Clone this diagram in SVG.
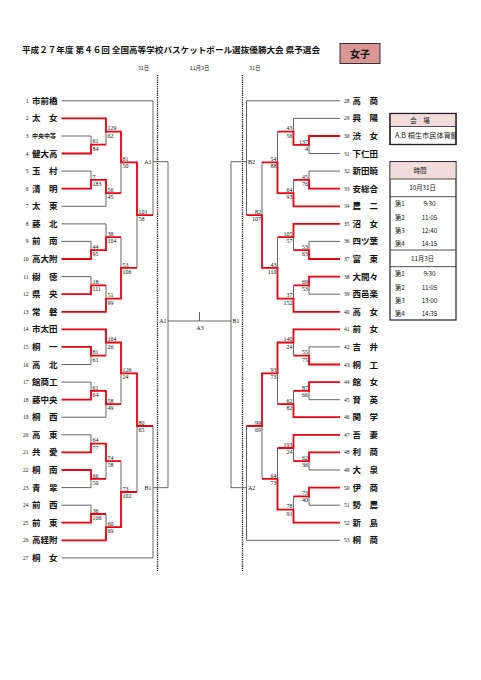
<svg xmlns="http://www.w3.org/2000/svg" width="481" height="680" viewBox="0 0 481 680">
<style>
.g{stroke:#555;stroke-width:0.9;fill:none}
.r{stroke:#e8000f;stroke-width:1.8;fill:none;stroke-linejoin:miter}
.dash{stroke:#222;stroke-width:1.3;stroke-dasharray:1.3 0.9;fill:none}
.nm{font-family:"Noto Sans CJK JP",sans-serif;font-size:8.5px;font-weight:bold;fill:#111}
.sm{font-family:"Noto Sans CJK JP",sans-serif;font-size:6px;font-weight:bold;fill:#111}
.no{font-family:"Liberation Serif",serif;font-size:5.5px;fill:#111}
.nol{font-family:"Liberation Serif",serif;font-size:5.5px;fill:#111;text-anchor:end}
.sc{font-family:"Liberation Serif",serif;font-size:6px;fill:#111}
.scr{font-family:"Liberation Serif",serif;font-size:6px;fill:#111;text-anchor:end}
.lb{font-family:"Liberation Serif",serif;font-size:6px;fill:#111}
.jp{font-family:"Noto Sans CJK JP",sans-serif;fill:#111}
.box{fill:#fff;stroke:#222;stroke-width:1.2}
.ln{stroke:#222;stroke-width:0.8}
.hd{fill:#f2dcdb}
</style>
<rect width="481" height="680" fill="#fff"/>
<g id="header">
<text class="jp" x="22" y="52.5" font-size="8.2" font-weight="bold" textLength="298" lengthAdjust="spacingAndGlyphs">平成２７年度 第４６回 全国高等学校バスケットボール選抜優勝大会 県予選会</text>
<rect x="340" y="43.5" width="40" height="20" fill="#d99694" stroke="#333" stroke-width="1"/>
<text class="jp" x="360" y="57.5" font-size="10" font-weight="bold" text-anchor="middle">女子</text>
<text class="jp" x="143.5" y="69.5" font-size="5.3" text-anchor="middle">31日</text>
<text class="jp" x="199.5" y="69.5" font-size="5.3" text-anchor="middle">11月3日</text>
<text class="jp" x="254.7" y="69.5" font-size="5.3" text-anchor="middle">31日</text>
</g>
<g id="connectors">
<path class="dash" d="M157.5 75V571M242.5 75V571"/>
<g class="g">
<path d="M61.5 100.8H153M61.5 136H91M61.5 171.1H91M61.5 206.3H106M61.5 223.9H106M61.5 241.4H91M61.5 276.6H91M61.5 364.5H91M61.5 382.1H91M61.5 417.2H106M61.5 434.8H91M61.5 487.6H91M61.5 505.2H91M61.5 557.9H153"/>
<path d="M91 136V144.7M91 171.1V179.9M91 241.4V250.2M91 276.6V285.4M91 355.7V364.5M91 382.1V390.9M91 434.8V443.6M91 478.8V487.6M91 505.2V514"/>
<path d="M106 131.6V144.7M106 193.1V206.3M106 223.9V237.1M106 285.4V298.6M106 342.5V355.7M106 404.1V417.2M106 461.2V478.8M106 514V527.1"/>
<path d="M121 162.3V193.1M121 237.1V267.8M121 373.3V404.1M121 461.2V492"/>
<path d="M137 215.1V267.8M137 426V492"/>
<path d="M153 100.8V215.1M153 161.7H168M153 426V557.9M153 487.7H168"/>
<path d="M168 161.7V487.7M168 321H231M231 161.7V487.7M199.5 312V321"/>
<path d="M246.5 100.8V215.1M246.5 161.7H231M246.5 426V540.3M246.5 487.7H231"/>
<path d="M340 100.8H246.5M340 118.4H293.5M340 153.5H309M340 171.1H309M340 241.4H309M340 294.2H309M340 346.9H309M340 399.7H309M340 470H309M340 505.2H309M340 540.3H246.5"/>
<path d="M309 144.8V153.5M309 171.1V179.9M309 241.4V250.2M309 285.4V294.2M309 346.9V355.7M309 390.9V399.7M309 461.2V470M309 496.4V505.2"/>
<path d="M293.5 118.4V131.6M293.5 179.9V193.1M293.5 237.1V250.2M293.5 285.4V298.6M293.5 342.5V355.7M293.5 390.9V404.1M293.5 448V461.2M293.5 496.4V509.6"/>
<path d="M277.5 131.6V162.3M277.5 237.1V267.8M277.5 373.3V404.1M277.5 448V478.8"/>
<path d="M262 162.3V215.1M262 426V478.8"/>
</g>
<g class="r">
<path d="M61.5 118.4H106V131.6H121V162.3H137V215.1H153"/>
<path d="M61.5 153.5H91V144.7H106"/>
<path d="M61.5 188.7H91V179.9H106V193.1H121"/>
<path d="M61.5 259H91V250.2H106V237.1H121"/>
<path d="M61.5 294.2H91V285.4H106"/>
<path d="M61.5 311.8H106V298.6H121V267.8H137"/>
<path d="M61.5 329.3H106V342.5H121V373.3H137V426H153"/>
<path d="M61.5 346.9H91V355.7H106"/>
<path d="M61.5 399.7H91V390.9H106V404.1H121"/>
<path d="M61.5 452.4H91V443.6H106V461.2H121"/>
<path d="M61.5 470H91V478.8H106"/>
<path d="M61.5 522.7H91V514H106"/>
<path d="M61.5 540.3H106V527.1H121V492H137"/>
<path d="M340 136H309V144.8H293.5V131.6H277.5"/>
<path d="M340 188.7H309V179.9H293.5"/>
<path d="M340 206.3H293.5V193.1H277.5V162.3H262"/>
<path d="M340 223.9H293.5V237.1H277.5"/>
<path d="M340 259H309V250.2H293.5"/>
<path d="M340 276.6H309V285.4H293.5"/>
<path d="M340 311.8H293.5V298.6H277.5V267.8H262V215.1H246.5"/>
<path d="M340 329.3H293.5V342.5H277.5V373.3H262V426H246.5"/>
<path d="M340 364.5H309V355.7H293.5"/>
<path d="M340 382.1H309V390.9H293.5"/>
<path d="M340 417.2H293.5V404.1H277.5"/>
<path d="M340 434.8H293.5V448H277.5"/>
<path d="M340 452.4H309V461.2H293.5"/>
<path d="M340 487.6H309V496.4H293.5"/>
<path d="M340 522.7H293.5V509.6H277.5V478.8H262"/>
</g>
</g>
<g id="scores">
<text class="sc" x="92.5" y="143.4">61</text><text class="sc" x="92.5" y="150.7">84</text>
<text class="sc" x="92.5" y="178.6">7</text><text class="sc" x="92.5" y="185.9">183</text>
<text class="sc" x="92.5" y="248.9">44</text><text class="sc" x="92.5" y="256.2">95</text>
<text class="sc" x="92.5" y="284.1">18</text><text class="sc" x="92.5" y="291.4">111</text>
<text class="sc" x="92.5" y="354.4">81</text><text class="sc" x="92.5" y="361.7">61</text>
<text class="sc" x="92.5" y="389.6">61</text><text class="sc" x="92.5" y="396.9">64</text>
<text class="sc" x="92.5" y="442.3">64</text><text class="sc" x="92.5" y="449.6">77</text>
<text class="sc" x="92.5" y="477.5">66</text><text class="sc" x="92.5" y="484.8">50</text>
<text class="sc" x="92.5" y="512.7">36</text><text class="sc" x="92.5" y="520">106</text>
<text class="sc" x="107.5" y="130.3">129</text><text class="sc" x="107.5" y="137.6">62</text>
<text class="sc" x="107.5" y="191.8">56</text><text class="sc" x="107.5" y="199.1">45</text>
<text class="sc" x="107.5" y="235.8">38</text><text class="sc" x="107.5" y="243.1">104</text>
<text class="sc" x="107.5" y="297.3">51</text><text class="sc" x="107.5" y="304.6">99</text>
<text class="sc" x="107.5" y="341.2">164</text><text class="sc" x="107.5" y="348.5">26</text>
<text class="sc" x="107.5" y="402.8">58</text><text class="sc" x="107.5" y="410.1">49</text>
<text class="sc" x="107.5" y="459.9">74</text><text class="sc" x="107.5" y="467.2">58</text>
<text class="sc" x="107.5" y="525.8">60</text><text class="sc" x="107.5" y="533.1">69</text>
<text class="sc" x="122.5" y="161">81</text><text class="sc" x="122.5" y="168.3">50</text>
<text class="sc" x="122.5" y="266.5">53</text><text class="sc" x="122.5" y="273.8">106</text>
<text class="sc" x="122.5" y="372">126</text><text class="sc" x="122.5" y="379.3">24</text>
<text class="sc" x="122.5" y="490.7">73</text><text class="sc" x="122.5" y="498">102</text>
<text class="sc" x="138.5" y="213.8">101</text><text class="sc" x="138.5" y="221.1">58</text>
<text class="sc" x="138.5" y="424.7">80</text><text class="sc" x="138.5" y="432">65</text>
<text class="scr" x="308" y="143.5">137</text><text class="scr" x="308" y="150.8">4</text>
<text class="scr" x="308" y="178.6">45</text><text class="scr" x="308" y="185.9">76</text>
<text class="scr" x="308" y="248.9">53</text><text class="scr" x="308" y="256.2">63</text>
<text class="scr" x="308" y="284.1">69</text><text class="scr" x="308" y="291.4">53</text>
<text class="scr" x="308" y="354.4">55</text><text class="scr" x="308" y="361.7">75</text>
<text class="scr" x="308" y="389.6">87</text><text class="scr" x="308" y="396.9">66</text>
<text class="scr" x="308" y="459.9">62</text><text class="scr" x="308" y="467.2">36</text>
<text class="scr" x="308" y="495.1">73</text><text class="scr" x="308" y="502.4">40</text>
<text class="scr" x="292.5" y="130.3">43</text><text class="scr" x="292.5" y="137.6">56</text>
<text class="scr" x="292.5" y="191.8">64</text><text class="scr" x="292.5" y="199.1">93</text>
<text class="scr" x="292.5" y="235.8">105</text><text class="scr" x="292.5" y="243.1">57</text>
<text class="scr" x="292.5" y="297.3">37</text><text class="scr" x="292.5" y="304.6">152</text>
<text class="scr" x="292.5" y="341.2">140</text><text class="scr" x="292.5" y="348.5">24</text>
<text class="scr" x="292.5" y="402.8">62</text><text class="scr" x="292.5" y="410.1">82</text>
<text class="scr" x="292.5" y="446.7">193</text><text class="scr" x="292.5" y="454">24</text>
<text class="scr" x="292.5" y="508.3">78</text><text class="scr" x="292.5" y="515.6">91</text>
<text class="scr" x="276.5" y="161">54</text><text class="scr" x="276.5" y="168.3">88</text>
<text class="scr" x="276.5" y="266.5">43</text><text class="scr" x="276.5" y="273.8">110</text>
<text class="scr" x="276.5" y="372">93</text><text class="scr" x="276.5" y="379.3">73</text>
<text class="scr" x="276.5" y="477.5">64</text><text class="scr" x="276.5" y="484.8">73</text>
<text class="scr" x="261" y="213.8">82</text><text class="scr" x="261" y="221.1">107</text>
<text class="scr" x="261" y="424.7">99</text><text class="scr" x="261" y="432">69</text>
</g>
<g id="slots">
<text class="lb" x="151.5" y="163.8" text-anchor="end">A1</text>
<text class="lb" x="151.5" y="489.8" text-anchor="end">B1</text>
<text class="lb" x="166.5" y="323.1" text-anchor="end">A1</text>
<text class="lb" x="232.5" y="323.1">B1</text>
<text class="lb" x="200" y="329.5" text-anchor="middle">A3</text>
<text class="lb" x="248" y="163.8">B2</text>
<text class="lb" x="248" y="489.8">A2</text>
</g>
<g id="teams-left">
<g id="t1"><text class="nol" x="28.5" y="102.8">1</text><text class="nm" x="32" y="103.8">市前橋</text></g>
<g id="t2"><text class="nol" x="28.5" y="120.4">2</text><text class="nm" x="32" y="121.4">太　女</text></g>
<g id="t3"><text class="nol" x="28.5" y="138">3</text><text class="sm" x="32" y="138.2">中央中等</text></g>
<g id="t4"><text class="nol" x="28.5" y="155.5">4</text><text class="nm" x="32" y="156.5">健大高</text></g>
<g id="t5"><text class="nol" x="28.5" y="173.1">5</text><text class="nm" x="32" y="174.1">玉　村</text></g>
<g id="t6"><text class="nol" x="28.5" y="190.7">6</text><text class="nm" x="32" y="191.7">清　明</text></g>
<g id="t7"><text class="nol" x="28.5" y="208.3">7</text><text class="nm" x="32" y="209.3">太　東</text></g>
<g id="t8"><text class="nol" x="28.5" y="225.9">8</text><text class="nm" x="32" y="226.9">藤　北</text></g>
<g id="t9"><text class="nol" x="28.5" y="243.4">9</text><text class="nm" x="32" y="244.4">前　南</text></g>
<g id="t10"><text class="nol" x="28.5" y="261">10</text><text class="nm" x="32" y="262">高大附</text></g>
<g id="t11"><text class="nol" x="28.5" y="278.6">11</text><text class="nm" x="32" y="279.6">樹　徳</text></g>
<g id="t12"><text class="nol" x="28.5" y="296.2">12</text><text class="nm" x="32" y="297.2">県　央</text></g>
<g id="t13"><text class="nol" x="28.5" y="313.8">13</text><text class="nm" x="32" y="314.8">常　磐</text></g>
<g id="t14"><text class="nol" x="28.5" y="331.3">14</text><text class="nm" x="32" y="332.3">市太田</text></g>
<g id="t15"><text class="nol" x="28.5" y="348.9">15</text><text class="nm" x="32" y="349.9">桐　一</text></g>
<g id="t16"><text class="nol" x="28.5" y="366.5">16</text><text class="nm" x="32" y="367.5">高　北</text></g>
<g id="t17"><text class="nol" x="28.5" y="384.1">17</text><text class="nm" x="32" y="385.1">館商工</text></g>
<g id="t18"><text class="nol" x="28.5" y="401.7">18</text><text class="nm" x="32" y="402.7">藤中央</text></g>
<g id="t19"><text class="nol" x="28.5" y="419.2">19</text><text class="nm" x="32" y="420.2">桐　西</text></g>
<g id="t20"><text class="nol" x="28.5" y="436.8">20</text><text class="nm" x="32" y="437.8">高　東</text></g>
<g id="t21"><text class="nol" x="28.5" y="454.4">21</text><text class="nm" x="32" y="455.4">共　愛</text></g>
<g id="t22"><text class="nol" x="28.5" y="472">22</text><text class="nm" x="32" y="473">桐　南</text></g>
<g id="t23"><text class="nol" x="28.5" y="489.6">23</text><text class="nm" x="32" y="490.6">青　翠</text></g>
<g id="t24"><text class="nol" x="28.5" y="507.2">24</text><text class="nm" x="32" y="508.2">前　西</text></g>
<g id="t25"><text class="nol" x="28.5" y="524.7">25</text><text class="nm" x="32" y="525.7">前　東</text></g>
<g id="t26"><text class="nol" x="28.5" y="542.3">26</text><text class="nm" x="32" y="543.3">高経附</text></g>
<g id="t27"><text class="nol" x="28.5" y="559.9">27</text><text class="nm" x="32" y="560.9">桐　女</text></g>
</g>
<g id="teams-right">
<g id="t28"><text class="no" x="344" y="102.8">28</text><text class="nm" x="352.5" y="103.8">高　商</text></g>
<g id="t29"><text class="no" x="344" y="120.4">29</text><text class="nm" x="352.5" y="121.4">興　陽</text></g>
<g id="t30"><text class="no" x="344" y="138">30</text><text class="nm" x="352.5" y="139">渋　女</text></g>
<g id="t31"><text class="no" x="344" y="155.5">31</text><text class="nm" x="352.5" y="156.5">下仁田</text></g>
<g id="t32"><text class="no" x="344" y="173.1">32</text><text class="nm" x="352.5" y="174.1">新田暁</text></g>
<g id="t33"><text class="no" x="344" y="190.7">33</text><text class="nm" x="352.5" y="191.7">安総合</text></g>
<g id="t34"><text class="no" x="344" y="208.3">34</text><text class="nm" x="352.5" y="209.3">農　二</text></g>
<g id="t35"><text class="no" x="344" y="225.9">35</text><text class="nm" x="352.5" y="226.9">沼　女</text></g>
<g id="t36"><text class="no" x="344" y="243.4">36</text><text class="nm" x="352.5" y="244.4">四ツ葉</text></g>
<g id="t37"><text class="no" x="344" y="261">37</text><text class="nm" x="352.5" y="262">富　東</text></g>
<g id="t38"><text class="no" x="344" y="278.6">38</text><text class="nm" x="352.5" y="279.6">大間々</text></g>
<g id="t39"><text class="no" x="344" y="296.2">39</text><text class="nm" x="352.5" y="297.2">西邑楽</text></g>
<g id="t40"><text class="no" x="344" y="313.8">40</text><text class="nm" x="352.5" y="314.8">高　女</text></g>
<g id="t41"><text class="no" x="344" y="331.3">41</text><text class="nm" x="352.5" y="332.3">前　女</text></g>
<g id="t42"><text class="no" x="344" y="348.9">42</text><text class="nm" x="352.5" y="349.9">吉　井</text></g>
<g id="t43"><text class="no" x="344" y="366.5">43</text><text class="nm" x="352.5" y="367.5">桐　工</text></g>
<g id="t44"><text class="no" x="344" y="384.1">44</text><text class="nm" x="352.5" y="385.1">館　女</text></g>
<g id="t45"><text class="no" x="344" y="401.7">45</text><text class="nm" x="352.5" y="402.7">育　英</text></g>
<g id="t46"><text class="no" x="344" y="419.2">46</text><text class="nm" x="352.5" y="420.2">関　学</text></g>
<g id="t47"><text class="no" x="344" y="436.8">47</text><text class="nm" x="352.5" y="437.8">吾　妻</text></g>
<g id="t48"><text class="no" x="344" y="454.4">48</text><text class="nm" x="352.5" y="455.4">利　商</text></g>
<g id="t49"><text class="no" x="344" y="472">49</text><text class="nm" x="352.5" y="473">大　泉</text></g>
<g id="t50"><text class="no" x="344" y="489.6">50</text><text class="nm" x="352.5" y="490.6">伊　商</text></g>
<g id="t51"><text class="no" x="344" y="507.2">51</text><text class="nm" x="352.5" y="508.2">勢　農</text></g>
<g id="t52"><text class="no" x="344" y="524.7">52</text><text class="nm" x="352.5" y="525.7">新　島</text></g>
<g id="t53"><text class="no" x="344" y="542.3">53</text><text class="nm" x="352.5" y="543.3">桐　商</text></g>
</g>
<defs><clipPath id="c1"><rect x="390" y="113.5" width="66" height="31"/></clipPath></defs>
<g id="venue">
<rect class="box" x="390" y="113.5" width="66" height="31"/>
<rect class="hd" x="390.6" y="114.1" width="64.8" height="12.4"/>
<line class="ln" x1="390" y1="126.5" x2="456" y2="126.5"/>
<text class="jp" x="420" y="122.6" font-size="6.5" text-anchor="middle">会　場</text>
<g clip-path="url(#c1)"><text class="jp" x="395" y="137.7" font-size="7.2">A.B  桐生市民体育館</text></g>
<rect x="390" y="113.5" width="66" height="31" fill="none" stroke="#222" stroke-width="1.2"/>
</g>
<g id="times">
<rect class="box" x="390" y="161.7" width="66" height="158.3"/>
<rect class="hd" x="390.6" y="162.3" width="64.8" height="16.7"/>
<line class="ln" x1="390" y1="179" x2="456" y2="179"/>
<line class="ln" x1="390" y1="196.7" x2="456" y2="196.7"/>
<line class="ln" x1="390" y1="250" x2="456" y2="250"/>
<line class="ln" x1="390" y1="266.7" x2="456" y2="266.7"/>
<text class="jp" x="420" y="173.4" font-size="6.5" text-anchor="middle">時間</text>
<text class="jp" x="422.5" y="190.4" font-size="6.3" text-anchor="middle">10月31日</text>
<text class="jp" x="395" y="206.3" font-size="6.3">第1</text><text class="jp" x="429.5" y="206.3" font-size="6.3" text-anchor="middle">9:30</text>
<text class="jp" x="395" y="219.6" font-size="6.3">第2</text><text class="jp" x="429.5" y="219.6" font-size="6.3" text-anchor="middle">11:05</text>
<text class="jp" x="395" y="233" font-size="6.3">第3</text><text class="jp" x="429.5" y="233" font-size="6.3" text-anchor="middle">12:40</text>
<text class="jp" x="395" y="246.3" font-size="6.3">第4</text><text class="jp" x="429.5" y="246.3" font-size="6.3" text-anchor="middle">14:15</text>
<text class="jp" x="422.5" y="260.6" font-size="6.3" text-anchor="middle">11月3日</text>
<text class="jp" x="395" y="276.3" font-size="6.3">第1</text><text class="jp" x="429.5" y="276.3" font-size="6.3" text-anchor="middle">9:30</text>
<text class="jp" x="395" y="289.6" font-size="6.3">第2</text><text class="jp" x="429.5" y="289.6" font-size="6.3" text-anchor="middle">11:05</text>
<text class="jp" x="395" y="303" font-size="6.3">第3</text><text class="jp" x="429.5" y="303" font-size="6.3" text-anchor="middle">13:00</text>
<text class="jp" x="395" y="316.3" font-size="6.3">第4</text><text class="jp" x="429.5" y="316.3" font-size="6.3" text-anchor="middle">14:35</text>
</g>
</svg>
